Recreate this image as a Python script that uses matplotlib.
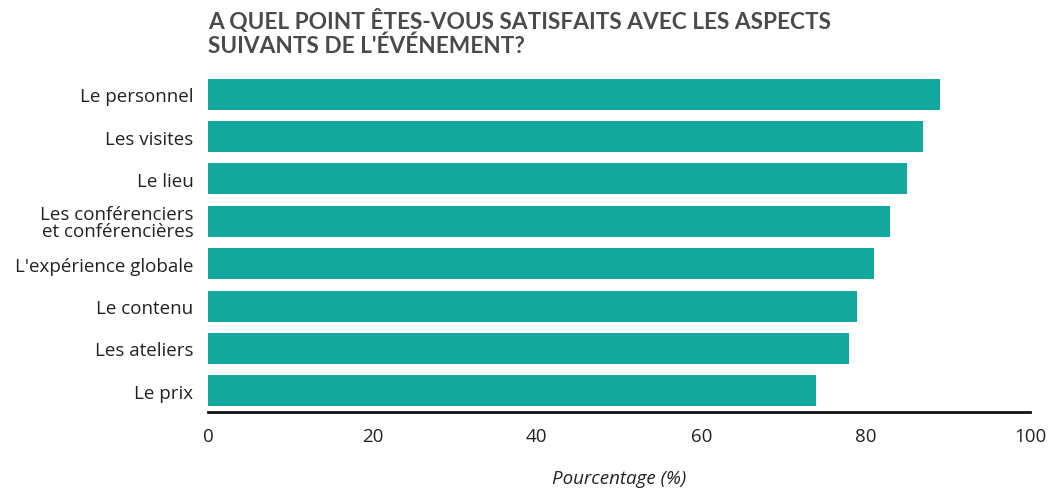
import matplotlib
matplotlib.use("Agg")
import matplotlib.pyplot as plt

categories = ["Le personnel", "Les visites", "Le lieu",
              "Les conférenciers\net conférencières", "L'expérience globale",
              "Le contenu", "Les ateliers", "Le prix"]
values = [89, 87, 85, 83, 81, 79, 78, 74]
xticks = [0, 20, 40, 60, 80, 100]

plt.rcParams['font.family'] = ['Open Sans', 'DejaVu Sans']

fig = plt.figure(figsize=(10.48, 4.89), dpi=100)
ax = fig.add_axes([208/1048, 1-413/489, (1030-208)/1048, (413-74)/489])

ypos = list(range(len(categories)))
ax.barh(ypos, values, height=0.73, color="#12A89D")
ax.set_ylim(len(categories) - 0.5, -0.5)
ax.set_xlim(0, 100)
ax.set_xticks(xticks)
ax.set_xticklabels([str(t) for t in xticks], fontsize=13.5, color="#222222")
ax.set_yticks(ypos)
ax.set_yticklabels(categories, fontsize=13.5, color="#222222", linespacing=0.9)
ax.tick_params(axis="both", length=0)
ax.tick_params(axis="y", pad=10.5)
ax.tick_params(axis="x", pad=11)
for s in ["top", "right", "left"]:
    ax.spines[s].set_visible(False)
ax.spines["bottom"].set_linewidth(2)
ax.spines["bottom"].set_color("#111111")

ax.set_xlabel("Pourcentage (%)", fontsize=13.5, style="italic", color="#222222", labelpad=17)

fig.text(208/1048, 1-9/489, "A QUEL POINT ÊTES-VOUS SATISFAITS AVEC LES ASPECTS\nSUIVANTS DE L'ÉVÉNEMENT?",
         fontsize=16.3, fontweight="bold", color="#4a4a4a", va="top", ha="left",
         family=["Lato", "DejaVu Sans"], linespacing=1.15)

fig.savefig("out.png", dpi=100)
